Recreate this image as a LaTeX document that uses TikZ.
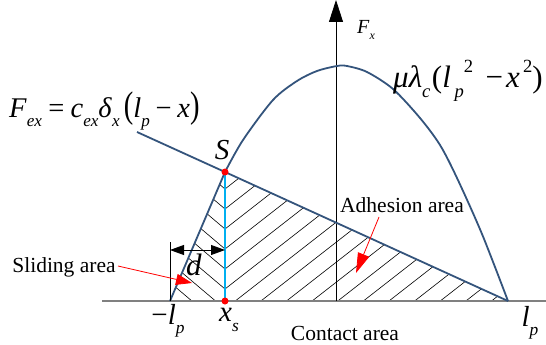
\documentclass[tikz,border=0pt]{standalone}
\usepackage{fontspec}
\setmainfont{Liberation Serif}[ItalicFont={Liberation Serif Italic}]
\usepackage{graphicx}
\usetikzlibrary{arrows.meta}
\definecolor{curveblue}{RGB}{52,84,124}
\definecolor{cyanline}{RGB}{0,176,240}
\definecolor{basegray}{RGB}{128,128,128}
\newcommand\sbx[1]{\raisebox{-0.32em}{\scalebox{0.6}{\itshape #1}}}
\newcommand\spx[1]{\raisebox{0.5em}{\scalebox{0.6}{#1}}}
\newcommand\fsz[1]{\fontsize{#1}{#1}\selectfont}
\begin{document}
\begin{tikzpicture}[x=1pt,y=-1pt,
  blueline/.style={draw=curveblue,line width=1.8pt,line join=round},
  hatchline/.style={draw=black,line width=0.6pt},
  redarrow/.style={draw=red,line width=0.8pt,-{Triangle[length=16pt,width=11pt]}},
  txtlabel/.style={inner sep=0pt,font=\fsz{21.5}},
  mlabel/.style={inner sep=0pt,font=\fsz{29}},
  reddot/.style={circle,fill=red,inner sep=0pt,minimum size=7pt}]
\useasboundingbox (0,0) rectangle (546,345);
\clip (0,0) rectangle (546,345);
% key points
\coordinate (nlp) at (170,301);
\coordinate (S) at (225,172);
\coordinate (xs) at (225,301);
\coordinate (lp) at (508,301);
\coordinate (fexstart) at (137,132);
\coordinate (o) at (336,301);
\coordinate (top) at (336,0);
\coordinate (bl) at (102,301);
\coordinate (br) at (546,301);
\coordinate (dtop) at (170,242);
\coordinate (dl) at (170,250);
\coordinate (dr) at (225,250);
% hatching
\begin{scope}
  \clip (nlp) -- (S) -- (xs) -- cycle;
  \foreach \k in {0,...,8} \draw[hatchline] (225,{329-20*\k}) -- ++(-130,-110);
\end{scope}
\begin{scope}
  \clip (S) -- (lp) -- (xs) -- cycle;
  \foreach \k in {-12,...,6} \draw[hatchline] (225,{289-20*\k}) -- ++(360,-281);
\end{scope}
% base line and axis
\draw[basegray,line width=1.8pt] (bl) -- (br);
\draw[line width=0.8pt,-{Triangle[length=22pt,width=14pt]}] (o) -- (top);
% curves
\draw[blueline] (fexstart) -- (S) -- (lp);
\draw[blueline] (nlp) -- (S) -- plot[smooth] coordinates {(225,172) (243,140) (273,100) (297,81) (317,71) (337,66) (347,66) (367,72) (393,89) (420,118) (440,145) (457,178) (482,234) (508,301)};
\draw[cyanline,line width=1.8pt] (S) -- (xs);
% d dimension
\draw[line width=0.6pt] (nlp) -- (dtop);
\draw[line width=0.8pt,{Triangle[length=14pt,width=10pt]}-{Triangle[length=14pt,width=10pt]}] (dl) -- (dr);
% dots
\node[reddot] (sdot) at (S) {};
\node[reddot] (xsdot) at (xs) {};
% labels
\node[inner sep=0pt,anchor=west,font=\fsz{28.5}] (fex) at (9,111) {\textit{F}\sbx{ex}\hspace{0.22em}=\hspace{0.22em}\textit{c}\sbx{ex}\textit{δ}\sbx{x}\hspace{0.15em}\scalebox{1}[1.3]{(}\textit{l}\sbx{p}\hspace{0.2em}−\hspace{0.2em}\textit{x}\scalebox{1}[1.3]{)}};
\node[inner sep=0pt,anchor=west,font=\fsz{31}] (mu) at (393,81) {\textit{μλ}\sbx{c}\hspace{0.05em}(\textit{l}\hspace{0.12em}\sbx{p}\spx{2}\hspace{0.4em}−\hspace{0.1em}\textit{x}\hspace{0.1em}\spx{2})};
\node[inner sep=0pt,font=\fsz{20}] (fx) at (366,30) {\textit{F}\sbx{x}};
\node[mlabel] (slab) at (222,150) {\textit{S}};
\node[mlabel] (nlplab) at (168,321) {−\textit{l}\sbx{p}};
\node[mlabel] (xslab) at (229,320) {\textit{x}\sbx{s}};
\node[mlabel] (lplab) at (530,323) {\textit{l}\sbx{p}};
\node[inner sep=0pt,font=\fsz{31}] (dlab) at (194,265) {\textit{d}};
\node[txtlabel] (slide) at (64,267) {Sliding area};
\node[txtlabel] (adh) at (402,205) {Adhesion area};
\node[txtlabel] (contact) at (345,333) {Contact area};
% red arrows
\coordinate (sls) at (118,266);
\coordinate (sltip) at (192,283);
\coordinate (adhs) at (379,217);
\coordinate (adhtip) at (356,273);
\draw[redarrow] (sls) -- (sltip);
\draw[redarrow,-{Triangle[length=20pt,width=12pt]}] (adhs) -- (adhtip);
\end{tikzpicture}
\end{document}
